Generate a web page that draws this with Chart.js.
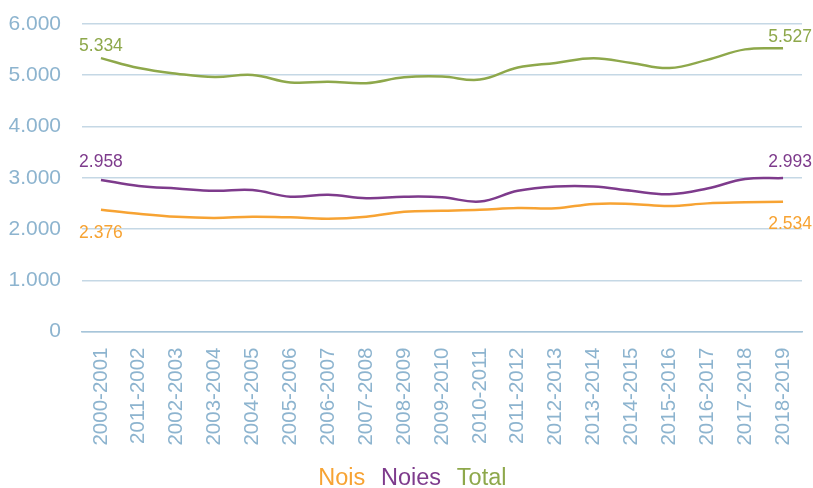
<!DOCTYPE html>
<html><head><meta charset="utf-8">
<script src="https://cdn.jsdelivr.net/npm/chart.js@4.4.1/dist/chart.umd.min.js"></script>
<style>html,body{margin:0;padding:0;background:#fff}#wrap{width:813px;height:488px;position:relative}</style>
</head><body><div id="wrap"><canvas id="c" width="813" height="488"></canvas></div>
<script>
const categories = ["2000-2001","2011-2002","2002-2003","2003-2004","2004-2005","2005-2006","2006-2007","2007-2008","2008-2009","2009-2010","2010-2011","2011-2012","2012-2013","2013-2014","2014-2015","2015-2016","2016-2017","2017-2018","2018-2019"];
const nois  = [2376,2296,2237,2217,2240,2227,2200,2240,2336,2355,2375,2410,2405,2490,2490,2450,2500,2520,2534];
const noies = [2958,2840,2790,2745,2760,2630,2670,2600,2630,2620,2535,2745,2830,2830,2745,2680,2790,2975,2993];
const total = [5334,5140,5030,4965,5005,4860,4875,4845,4960,4975,4915,5150,5240,5330,5240,5140,5300,5505,5527];
const yTicks = [0,1000,2000,3000,4000,5000,6000];

const FONT = '"Liberation Sans",Arial,sans-serif';
const AXIS_COLOR = '#8db4cf';
const fmt = v => String(v).replace(/\B(?=(\d{3})+(?!\d))/g, '.');

const endLabels = {
  id: 'endLabels',
  afterDatasetsDraw(chart) {
    const ctx = chart.ctx;
    ctx.save();
    ctx.font = '17.5px ' + FONT;
    ctx.textAlign = 'center';
    ctx.textBaseline = 'alphabetic';
    chart.data.datasets.forEach((ds, di) => {
      const meta = chart.getDatasetMeta(di);
      const o = ds.endLabelOffsets;
      const n = ds.data.length;
      [[0, o.first], [n - 1, o.last]].forEach(([i, off]) => {
        const p = meta.data[i];
        ctx.fillStyle = ds.borderColor;
        ctx.fillText(fmt(ds.data[i]), p.x + off[0], p.y + off[1]);
      });
    });
    ctx.restore();
  }
};

new Chart(document.getElementById('c'), {
  type: 'line',
  data: {
    labels: categories,
    datasets: [
      {label: 'Nois', data: nois, borderColor: '#f7a333', endLabelOffsets: {first: [0, 28], last: [7, 27]}},
      {label: 'Noies', data: noies, borderColor: '#7e3b8c', endLabelOffsets: {first: [0, -13], last: [7, -11]}},
      {label: 'Total', data: total, borderColor: '#8ea84b', endLabelOffsets: {first: [0, -7], last: [7, -6]}}
    ].map(d => Object.assign(d, {borderWidth: 2.5, pointRadius: 0, pointHoverRadius: 0, tension: 0.4, fill: false}))
  },
  options: {
    responsive: false,
    animation: false,
    devicePixelRatio: 1,
    layout: {padding: {top: 0, right: 0, left: 0, bottom: -12}},
    plugins: {
      tooltip: {enabled: false},
      legend: {
        position: 'bottom',
        labels: {
          boxWidth: 0, boxHeight: 0, padding: 4,
          font: {family: FONT, size: 23.5},
          generateLabels(chart) {
            return chart.data.datasets.map((ds, i) => ({
              text: ds.label, datasetIndex: i, fontColor: ds.borderColor,
              fillStyle: 'rgba(0,0,0,0)', strokeStyle: 'rgba(0,0,0,0)', lineWidth: 0, hidden: false
            }));
          }
        }
      }
    },
    scales: {
      x: {
        offset: true,
        grid: {display: false, drawTicks: false},
        border: {display: true, color: '#a7c5da', width: 1.5},
        ticks: {color: AXIS_COLOR, font: {family: FONT, size: 20.5}, minRotation: 90, maxRotation: 90, autoSkip: false, padding: 16},
        afterFit(s) { s.height = 131; s.paddingLeft = 0; s.paddingRight = 11; }
      },
      y: {
        min: 0, max: 6000,
        afterBuildTicks(s) { s.ticks = yTicks.map(v => ({value: v})); },
        grid: {color: '#c5d8e5', lineWidth: 1.5, drawTicks: false},
        border: {display: false},
        ticks: {color: AXIS_COLOR, font: {family: FONT, size: 21}, padding: 21, callback: v => fmt(v)},
        afterFit(s) { s.width = 82; s.paddingTop = 24; s.paddingBottom = 0; }
      }
    }
  },
  plugins: [endLabels]
});
</script></body></html>
